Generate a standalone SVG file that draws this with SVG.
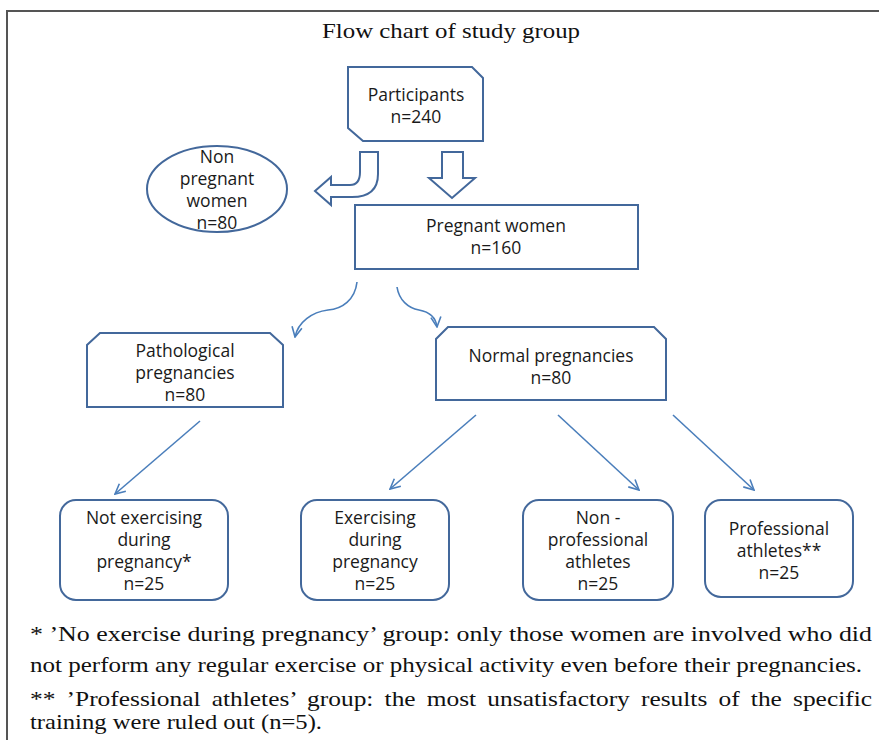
<svg xmlns="http://www.w3.org/2000/svg" width="879" height="740" viewBox="0 0 879 740">
<defs>
<style>
.box{fill:#fff;stroke:#43689b;stroke-width:2}
.t{font-family:"Open Sans",Lato,sans-serif;font-size:17.5px;fill:#1a1a1a;text-anchor:middle}
.fn{font-family:"Liberation Serif","Times New Roman",serif;font-size:21px;fill:#111}
.c{fill:none;stroke:#4a7ebb;stroke-width:1.6}
.blk{fill:#fff;stroke:#43689b;stroke-width:2;stroke-linejoin:miter}
</style>
<marker id="ah" viewBox="0 0 12 12" refX="11" refY="6" markerWidth="12" markerHeight="12" markerUnits="userSpaceOnUse" orient="auto">
<polyline points="1,1 11,6 1,11" fill="none" stroke="#4a7ebb" stroke-width="1.6"/>
</marker>
</defs>
<rect width="879" height="740" fill="#fff"/>
<g id="frame" fill="none" stroke="#555" stroke-width="2">
<polyline points="7,740 7,11 879,11"/>
</g>
<text x="322" y="38" class="fn" textLength="258" lengthAdjust="spacingAndGlyphs">Flow chart of study group</text>

<g id="participants">
<path class="box" d="M348,67 H472 L483,78 V141 H363 L348,128 Z"/>
<text class="t" x="416" y="101">Participants</text>
<text class="t" x="416" y="123">n=240</text>
</g>
<g id="nonpregnant">
<ellipse class="box" cx="217" cy="189" rx="70" ry="43"/>
<text class="t" x="217" y="163">Non</text>
<text class="t" x="217" y="185">pregnant</text>
<text class="t" x="217" y="207">women</text>
<text class="t" x="217" y="229">n=80</text>
</g>
<g id="pregnant">
<rect class="box" x="355" y="205" width="283" height="64"/>
<text class="t" x="496" y="232">Pregnant women</text>
<text class="t" x="496" y="254">n=160</text>
</g>
<g id="pathological">
<path class="box" d="M100,333 H270 L283,345 V407 H87 V345 Z"/>
<text class="t" x="185" y="357">Pathological</text>
<text class="t" x="185" y="379">pregnancies</text>
<text class="t" x="185" y="401">n=80</text>
</g>
<g id="normal">
<path class="box" d="M448,327 H654 L666,339 V400 H436 V339 Z"/>
<text class="t" x="551" y="362">Normal pregnancies</text>
<text class="t" x="551" y="384">n=80</text>
</g>
<g id="notexercising">
<rect class="box" x="60" y="500" width="168" height="100" rx="16"/>
<text class="t" x="144" y="524">Not exercising</text>
<text class="t" x="144" y="546">during</text>
<text class="t" x="144" y="568">pregnancy*</text>
<text class="t" x="144" y="590">n=25</text>
</g>
<g id="exercising">
<rect class="box" x="301" y="500" width="148" height="100" rx="16"/>
<text class="t" x="375" y="524">Exercising</text>
<text class="t" x="375" y="546">during</text>
<text class="t" x="375" y="568">pregnancy</text>
<text class="t" x="375" y="590">n=25</text>
</g>
<g id="nonprofessional">
<rect class="box" x="523" y="500" width="150" height="100" rx="16"/>
<text class="t" x="598" y="524">Non -</text>
<text class="t" x="598" y="546">professional</text>
<text class="t" x="598" y="568">athletes</text>
<text class="t" x="598" y="590">n=25</text>
</g>
<g id="professional">
<rect class="box" x="705" y="500" width="148" height="97" rx="16"/>
<text class="t" x="779" y="535">Professional</text>
<text class="t" x="779" y="557">athletes**</text>
<text class="t" x="779" y="579">n=25</text>
</g>

<g id="connectors">
<path class="blk" d="M378,152 V174 Q378,197 352,197 H331 V205 L315,191 L331,177 V185 H350 Q360,185 360,172 V152 Z"/>
<path class="blk" d="M442,152 H463 V178 H475 L452,198 L429,178 H442 Z"/>
<path class="c" marker-end="url(#ah)" d="M357,282 C355,300 342,309 328,310 C312,312 298,322 295,337"/>
<path class="c" marker-end="url(#ah)" d="M397,287 C399,300 408,308 419,310 C430,312 436,318 437,327"/>
<line class="c" marker-end="url(#ah)" x1="200" y1="421" x2="115" y2="494"/>
<line class="c" marker-end="url(#ah)" x1="476" y1="415" x2="390" y2="489"/>
<line class="c" marker-end="url(#ah)" x1="558" y1="415" x2="639" y2="490"/>
<line class="c" marker-end="url(#ah)" x1="673" y1="415" x2="754" y2="490"/>
</g>

<g id="footnotes">
<text class="fn" x="30" y="641" textLength="842" lengthAdjust="spacingAndGlyphs">* ’No exercise during pregnancy’ group: only those women are involved who did</text>
<text class="fn" x="30" y="672" textLength="832" lengthAdjust="spacingAndGlyphs">not perform any regular exercise or physical activity even before their pregnancies.</text>
<text class="fn" x="30" y="706" textLength="842" lengthAdjust="spacingAndGlyphs" word-spacing="4">** ’Professional athletes’ group: the most unsatisfactory results of the specific</text>
<text class="fn" x="30" y="729" textLength="292" lengthAdjust="spacingAndGlyphs">training were ruled out (n=5).</text>
</g>
</svg>
